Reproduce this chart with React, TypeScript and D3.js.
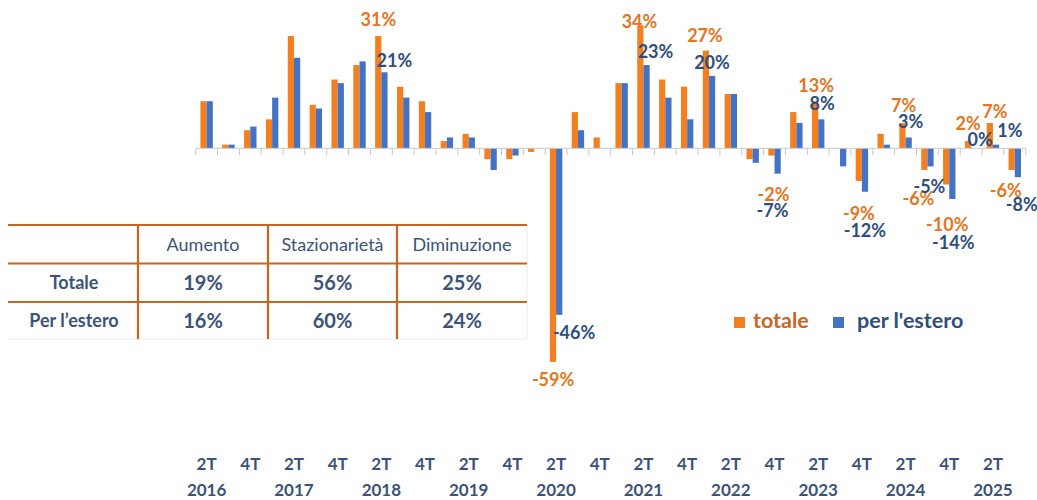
import React from 'react';
import * as d3 from 'd3';

const categories = [
  "2T 2016","3T 2016","4T 2016","1T 2017","2T 2017","3T 2017","4T 2017","1T 2018",
  "2T 2018","3T 2018","4T 2018","1T 2019","2T 2019","3T 2019","4T 2019","1T 2020",
  "2T 2020","3T 2020","4T 2020","1T 2021","2T 2021","3T 2021","4T 2021","1T 2022",
  "2T 2022","3T 2022","4T 2022","1T 2023","2T 2023","3T 2023","4T 2023","1T 2024",
  "2T 2024","3T 2024","4T 2024","1T 2025","2T 2025","3T 2025"
];
const totale = [13, 1, 5, 8, 31, 12, 19, 23, 31, 17, 13, 2, 4, -3, -3, -1, -59, 10, 3, 18, 34, 19, 17, 27, 15, -3, -2, 10, 13, 0, -9, 4, 7, -6, -10, 2, 7, -6];
const estero = [13, 1, 6, 14, 25, 11, 18, 24, 21, 14, 10, 3, 3, -6, -2, 0, -46, 5, 0, 18, 23, 14, 8, 20, 15, -4, -7, 7, 8, -5, -12, 1, 3, -5, -14, 0, 1, -8];
const seriesNames = ["totale", "per l'estero"];
const labelledCats = [8, 16, 20, 23, 26, 28, 30, 32, 33, 34, 35, 36, 37];

const tableCols = ["Aumento", "Stazionarietà", "Diminuzione"];
const tableRows = ["Totale", "Per l’estero"];
const tableTotale = ["19%", "56%", "25%"];
const tableEstero = ["16%", "60%", "24%"];

// layout (pixel offsets of the value labels from their bar end)
const offTot: [number, number][] = [[-3,-16],[-3,18],[-4,-4],[-4,-15],[-1,39],[-2,-16],[-3,33],[-2,-17],[-9,29],[-2,40],[-3,-17],[2,-11],[-9,21]];
const offEst: [number, number][] = [[13,-12],[18,18],[12,-13],[3,-13],[-2,37],[4,-16],[3,39],[5,-16],[2,20],[4,44],[9,-9],[17,-14],[7,27]];

const ORANGE = "#F47F1F";
const BLUE = "#4472C4";
const ORANGE_TXT = "#E8741C";
const BLUE_TXT = "#2F4E7E";
const AXIS_TXT = "#3C5379";
const TABLE_LINE = "#C9651C";
const FONT = "Lato, 'Open Sans', sans-serif";

export default function App() {
  const W = 1037, H = 500;
  const x0 = 195.7, x1 = 1025.7;
  const zeroY = 148.3, k = 3.62;
  const x = d3.scaleBand<string>().domain(categories).range([x0, x1]).paddingInner(0).paddingOuter(0);
  const bw = 6.2;
  const inner = d3.scaleBand<string>().domain(seriesNames).range([-bw, bw]);
  const y = d3.scaleLinear().domain([-60, 35]).range([zeroY + 60 * k, zeroY - 35 * k]);
  const cx = (i: number) => (x(categories[i]) as number) + x.bandwidth() / 2;
  const seriesData = [totale, estero];
  const colors = [ORANGE, BLUE];

  const tx = [8, 138, 268, 397, 527];
  const ty = [225, 263.5, 302, 339];

  return (
    <svg width={W} height={H} style={{ position: 'absolute', left: 0, top: 0, background: '#fff' }} fontFamily={FONT}>
      {/* bars */}
      {seriesData.map((vals, s) => (
        <g key={s}>
          {vals.map((v, i) => {
            const bx = cx(i) + (inner(seriesNames[s]) as number);
            const ya = y(Math.max(0, v)), yb = y(Math.min(0, v));
            return <rect key={i} x={bx} y={ya} width={inner.bandwidth()} height={Math.max(0, yb - ya)} fill={colors[s]} />;
          })}
        </g>
      ))}
      {/* axis */}
      <line x1={x0} x2={x1} y1={y(0)} y2={y(0)} stroke="#C8C8C8" strokeWidth={1} />
      {categories.concat(["end"]).map((c, i) => {
        const tx0 = x0 + i * x.bandwidth();
        return <line key={i} x1={tx0} x2={tx0} y1={y(0)} y2={y(0) + 7} stroke="#C8C8C8" strokeWidth={1} />;
      })}
      {/* tick labels */}
      {categories.map((c, i) => {
        const [q, yr] = c.split(' ');
        if (q !== '2T' && q !== '4T') return null;
        return (
          <g key={i} fill={AXIS_TXT} fontWeight="bold" fontSize={17} textAnchor="middle">
            <text x={cx(i)} y={470}>{q}</text>
            {q === '2T' && <text x={cx(i)} y={496}>{yr}</text>}
          </g>
        );
      })}
      {/* value labels */}
      {labelledCats.map((i, j) => (
        <g key={i} fontWeight="bold" fontSize={18} textAnchor="middle">
          <text x={cx(i) + offTot[j][0]} y={y(totale[i]) + offTot[j][1]} dy="0.35em" fill={ORANGE_TXT}>{totale[i]}%</text>
          <text x={cx(i) + offEst[j][0]} y={y(estero[i]) + offEst[j][1]} dy="0.35em" fill={BLUE_TXT}>{estero[i]}%</text>
        </g>
      ))}
      {/* legend */}
      <rect x={734} y={317} width={11} height={11} fill={ORANGE} />
      <text x={753} y={328} fontSize={21.5} fontWeight="bold" fill="#CC661E">{seriesNames[0]}</text>
      <rect x={833} y={317} width={11} height={11} fill={BLUE} />
      <text x={857} y={328} fontSize={21.5} fontWeight="bold" fill={BLUE_TXT}>{seriesNames[1]}</text>
      {/* table */}
      <g>
        <rect x={tx[0]} y={ty[0]} width={tx[4] - tx[0]} height={ty[3] - ty[0]} fill="#fff" />
        <line x1={tx[4]} x2={tx[4]} y1={ty[0]} y2={ty[3]} stroke="#EBEBEB" strokeWidth={1} />
        <line x1={tx[0]} x2={tx[4]} y1={ty[3]} y2={ty[3]} stroke="#EBEBEB" strokeWidth={1} />
        {ty.slice(0, 3).map((yy, i) => (
          <line key={'h' + i} x1={tx[0]} x2={tx[4]} y1={yy} y2={yy} stroke={TABLE_LINE} strokeWidth={2.2} />
        ))}
        {tx.slice(1, 4).map((xx, i) => (
          <line key={'v' + i} x1={xx} x2={xx} y1={ty[0]} y2={ty[3]} stroke={TABLE_LINE} strokeWidth={2.2} />
        ))}
        {tableCols.map((c, i) => (
          <text key={'c' + i} x={(tx[i + 1] + tx[i + 2]) / 2} y={(ty[0] + ty[1]) / 2} dy="0.35em" textAnchor="middle" fontSize={18} fill={AXIS_TXT}>{c}</text>
        ))}
        {tableRows.map((r, i) => (
          <text key={'r' + i} x={(tx[0] + tx[1]) / 2 + 1} y={(ty[i + 1] + ty[i + 2]) / 2} dy="0.35em" textAnchor="middle" fontSize={18} fontWeight="bold" fill={AXIS_TXT}>{r}</text>
        ))}
        {[tableTotale, tableEstero].map((row, ri) => row.map((v, ci) => (
          <text key={ri + '-' + ci} x={(tx[ci + 1] + tx[ci + 2]) / 2} y={(ty[ri + 1] + ty[ri + 2]) / 2} dy="0.35em" textAnchor="middle" fontSize={20} fontWeight="bold" fill={AXIS_TXT}>{v}</text>
        )))}
      </g>
    </svg>
  );
}
